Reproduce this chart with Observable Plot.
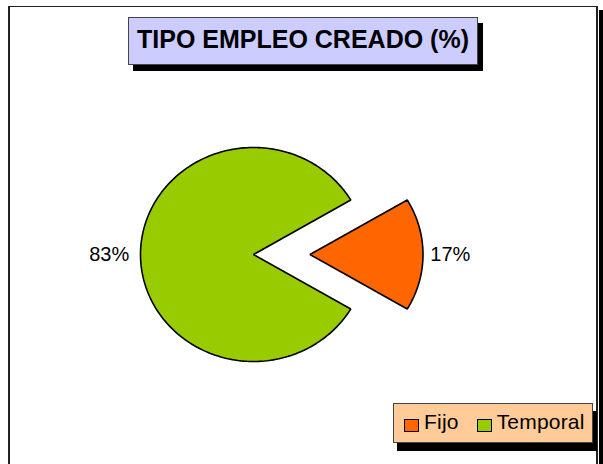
<!DOCTYPE html>
<html><head><meta charset="utf-8">
<script src="https://cdn.jsdelivr.net/npm/d3@7"></script>
<script src="https://cdn.jsdelivr.net/npm/@observablehq/plot@0.6"></script>
<style>
body{margin:0;width:603px;height:464px;overflow:hidden;position:relative;font-family:"Liberation Sans",Arial,sans-serif;background:#fff}
#shadow{position:absolute;left:599px;top:10px;width:10px;height:470px;background:#000}
#frame{position:absolute;left:8px;top:6px;width:586px;height:470px;border:2px solid #222;border-top-width:1px;background:#fff}
#chart{position:absolute;left:0;top:0}
#title{position:absolute;left:128px;top:17px;width:350px;height:48px;box-sizing:border-box;border:1px solid #444;background:#CCCCFF;box-shadow:5px 6px 0 #000;text-align:center;font-weight:bold;font-size:25px;line-height:42px;color:#000}
#legend{position:absolute;left:393px;top:403px;width:200px;height:40px;box-sizing:border-box;border:1px solid #444;background:#FFCC99;box-shadow:4px 8px 0 #000;display:flex;align-items:center;padding-left:10px;font-size:21px;letter-spacing:0.2px;color:#000}
.item{display:flex;align-items:center;margin-right:18px}
.sw{width:13px;height:11px;border:1px solid #000;margin-right:5px;margin-top:4px}
.lt{position:relative;top:-1px}
</style></head>
<body>
<div id="shadow"></div>
<div id="frame"></div>
<div id="chart"></div>
<div id="title"></div>
<div id="legend"></div>
<script>
const titleText = "TIPO EMPLEO CREADO (%)";
const categories = ["Fijo", "Temporal"];
const values = [17, 83];
const labels = ["17%", "83%"];
const colors = ["#FF6600", "#99CC00"];
const explode = [0.5, 0];
const startAngle = 59.4; // degrees, clockwise from 12 o'clock

document.getElementById("title").textContent = titleText;

const total = d3.sum(values);
let acc = 0;
const slices = categories.map((c, i) => {
  const a0 = startAngle + acc / total * 360;
  acc += values[i];
  const a1 = startAngle + acc / total * 360;
  const mid = (a0 + a1) / 2 * Math.PI / 180;
  const ox = explode[i] * Math.sin(mid), oy = explode[i] * Math.cos(mid);
  const n = Math.max(8, Math.ceil((a1 - a0) / 1.5));
  const pts = [{x: ox, y: oy}];
  for (let k = 0; k <= n; k++) {
    const t = (a0 + (a1 - a0) * k / n) * Math.PI / 180;
    pts.push({x: ox + Math.sin(t), y: oy + Math.cos(t)});
  }
  const right = Math.sin(mid) >= 0;
  const lr = right ? 1.065 : 1.1;
  return {cat: c, color: colors[i], pts, label: labels[i], anchor: right ? "start" : "end",
          lx: ox + lr * Math.sin(mid), ly: oy + lr * Math.cos(mid)};
});

const cx = 253, cy = 254, rx = 113, ry = 107;
const plot = Plot.plot({
  width: 603, height: 464, margin: 0,
  style: {background: "transparent", overflow: "visible"},
  x: {domain: [-1, 1], range: [cx - rx, cx + rx], axis: null},
  y: {domain: [-1, 1], range: [cy + ry, cy - ry], axis: null},
  marks: [
    ...slices.map(s => Plot.line(s.pts, {x: "x", y: "y", fill: s.color, stroke: "#000", strokeWidth: 1.6, curve: "linear-closed", strokeLinejoin: "miter"})),
    ...slices.map(s => Plot.text([s], {x: "lx", y: "ly", text: "label", textAnchor: s.anchor, fontSize: 20, fontFamily: "Liberation Sans, Arial, sans-serif", fill: "#000"}))
  ]
});
document.getElementById("chart").appendChild(plot);

const legend = document.getElementById("legend");
categories.forEach((c, i) => {
  const it = document.createElement("div"); it.className = "item";
  const sw = document.createElement("div"); sw.className = "sw"; sw.style.background = colors[i];
  const t = document.createElement("span"); t.className = "lt"; t.textContent = c;
  it.appendChild(sw); it.appendChild(t); legend.appendChild(it);
});
</script>
</body></html>
